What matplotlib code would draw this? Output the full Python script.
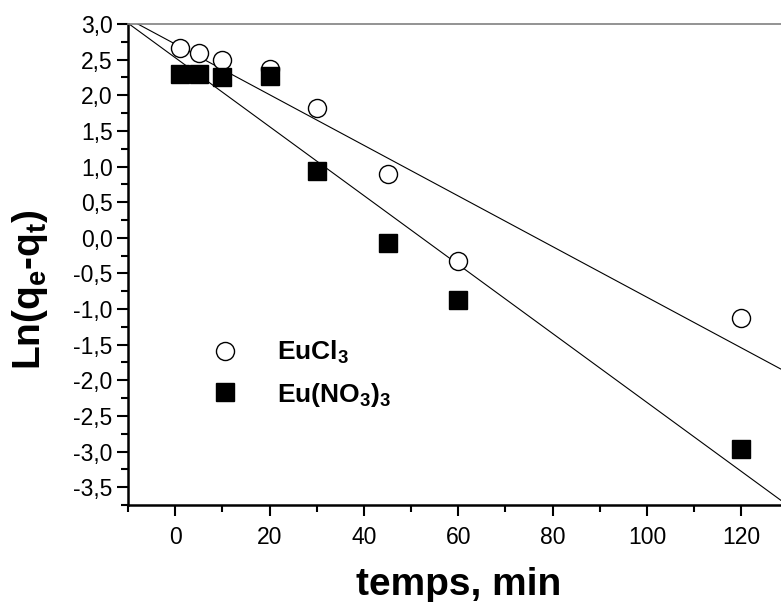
import matplotlib
matplotlib.use('Agg')
import matplotlib.pyplot as plt
from matplotlib.ticker import MultipleLocator, FuncFormatter
import numpy as np

plt.rcParams['font.family'] = ['Liberation Sans', 'DejaVu Sans']
plt.rcParams['mathtext.fontset'] = 'custom'
plt.rcParams['mathtext.rm'] = 'Liberation Sans:bold'
plt.rcParams['mathtext.it'] = 'Liberation Sans:bold'
plt.rcParams['mathtext.bf'] = 'Liberation Sans:bold'
plt.rcParams['mathtext.default'] = 'rm'

# temps (min) et Ln(qe - qt) pour les deux sels
temps = [1, 5, 10, 20, 30, 45, 60, 120]
ln_eucl3 = [2.67, 2.60, 2.50, 2.37, 1.82, 0.90, -0.33, -1.12]
ln_eu_no3 = [2.30, 2.30, 2.25, 2.27, 0.94, -0.07, -0.88, -2.97]

x_min, x_max = -10, 128.4
y_min, y_max = -3.75, 3.0

fig = plt.figure(figsize=(7.81, 6.02), dpi=100)
ax = fig.add_axes([128 / 781, 97 / 602, 1 - 128 / 781, (505 - 24) / 602])

# droites de regression lineaire (pseudo-premier ordre)
xx = np.array([x_min, x_max])
for y in (ln_eucl3, ln_eu_no3):
    a, b = np.polyfit(temps, y, 1)
    ax.plot(xx, a * xx + b, color='black', lw=0.8, zorder=2)

ax.plot(temps, ln_eucl3, 'o', ms=13, mfc='white', mec='black', mew=1.0,
        label=r'EuCl$_3$', zorder=3)
ax.plot(temps, ln_eu_no3, 's', ms=13, mfc='black', mec='black',
        label=r'Eu(NO$_3$)$_3$', zorder=3)

ax.set_xlim(x_min, x_max)
ax.set_ylim(y_min, y_max)

ax.xaxis.set_major_locator(MultipleLocator(20))
ax.xaxis.set_minor_locator(MultipleLocator(10))
ax.yaxis.set_major_locator(MultipleLocator(0.5))
ax.yaxis.set_minor_locator(MultipleLocator(0.25))
ax.yaxis.set_major_formatter(FuncFormatter(lambda v, p: f'{v:.1f}'.replace('.', ',')))

ax.tick_params(which='major', direction='out', length=8, width=1.5, labelsize=16.5, pad=3)
ax.tick_params(which='minor', direction='out', length=5, width=1.5)
ax.tick_params(axis='x', which='major', pad=7)
ax.tick_params(top=False, right=False)

ax.spines['left'].set_linewidth(1.8)
ax.spines['bottom'].set_linewidth(1.8)
ax.spines['top'].set_color('#808080')
ax.spines['top'].set_linewidth(1.2)
ax.spines['right'].set_visible(False)

leg = ax.legend(loc='upper left', bbox_to_anchor=((212 - 128) / 653, (505 - 339) / 481),
                frameon=False, handlelength=1.0, handletextpad=1.45,
                labelspacing=0.55, borderpad=0, borderaxespad=0,
                prop={'weight': 'bold', 'size': 19})

fig.text(30 / 781, 1 - 290 / 602, r'Ln(q$_e$-q$_t$)', rotation=90,
         ha='center', va='center', fontsize=28, fontweight='bold')
fig.text(459 / 781, 1 - 585 / 602, 'temps, min', ha='center', va='center',
         fontsize=28, fontweight='bold')

fig.savefig('out.png', dpi=100)
